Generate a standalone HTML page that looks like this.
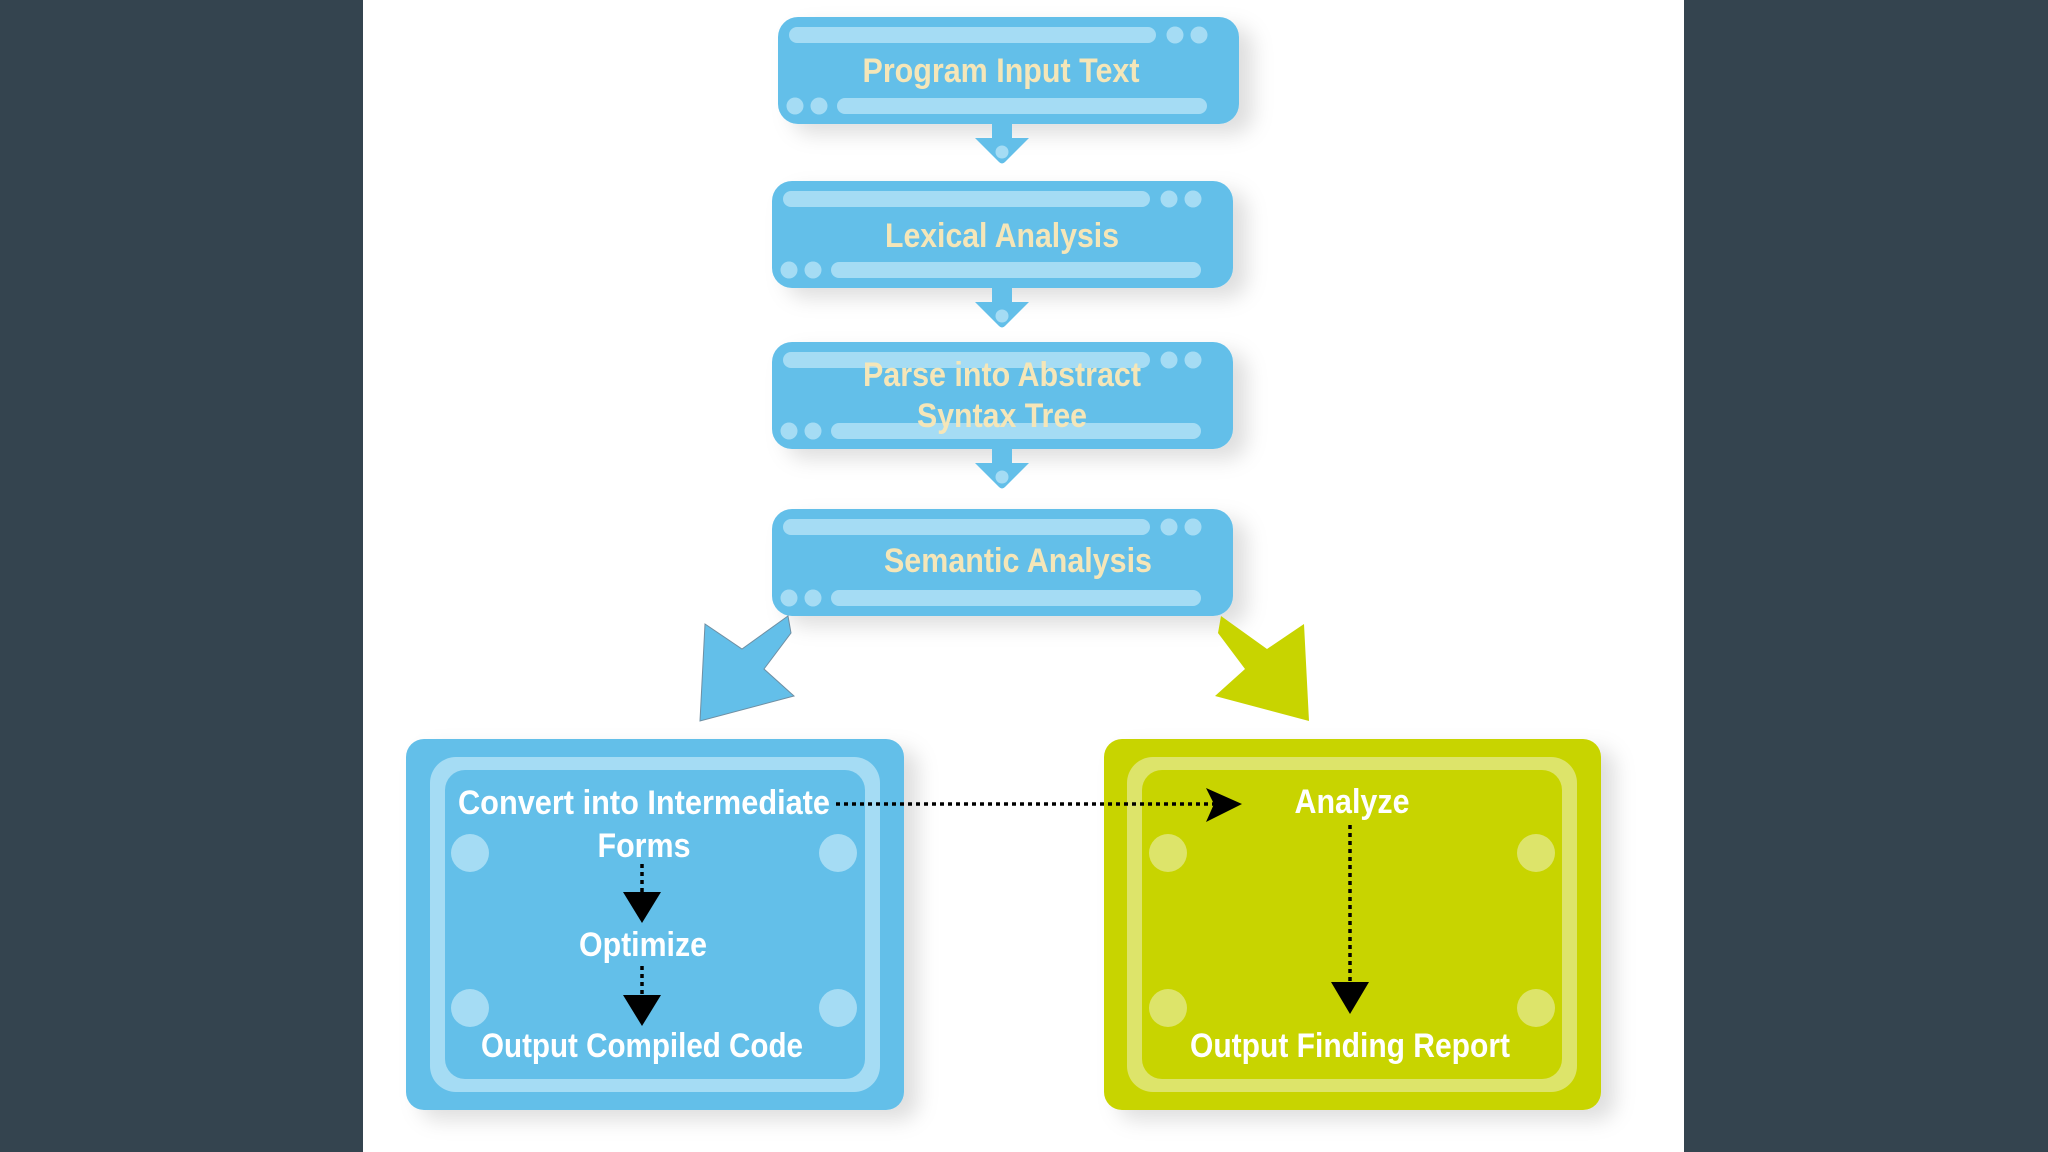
<!DOCTYPE html>
<html><head><meta charset="utf-8"><style>
html,body{margin:0;padding:0;background:#34444f;}
svg{display:block}
text{font-family:"Liberation Sans Narrow","Liberation Sans",sans-serif;font-weight:bold;text-anchor:middle}
</style></head><body>
<svg width="2048" height="1152" viewBox="0 0 2048 1152" xmlns="http://www.w3.org/2000/svg">
<defs>
<filter id="sh" x="-10%" y="-10%" width="130%" height="140%">
<feDropShadow dx="14" dy="10" stdDeviation="10" flood-color="#000" flood-opacity="0.13"/>
</filter>
<g id="bar">
<rect x="0" y="0" width="461" height="107" rx="20" fill="#63bfe9"/>
<rect x="11" y="10" width="367" height="16" rx="8" fill="#a5dcf4"/>
<circle cx="397" cy="18" r="8.5" fill="#a5dcf4"/>
<circle cx="421" cy="18" r="8.5" fill="#a5dcf4"/>
<circle cx="17" cy="89" r="8.5" fill="#a5dcf4"/>
<circle cx="41" cy="89" r="8.5" fill="#a5dcf4"/>
<rect x="59" y="81" width="370" height="16" rx="8" fill="#a5dcf4"/>
</g>
<g id="conn">
<path d="M-10 0 H10 V14 H27 L3 38 Q0 41 -3 38 L-27 14 H-10 Z" fill="#63bfe9"/>
<circle cx="0" cy="28" r="6.5" fill="#a5dcf4"/>
</g>
</defs>
<rect x="363" y="0" width="1321" height="1152" fill="#ffffff"/>

<g filter="url(#sh)"><use href="#bar" x="778" y="17"/></g>
<g filter="url(#sh)"><use href="#bar" x="772" y="181"/></g>
<g filter="url(#sh)"><use href="#bar" x="772" y="342"/></g>
<g filter="url(#sh)"><use href="#bar" x="772" y="509"/></g>
<use href="#conn" x="1002" y="124"/>
<use href="#conn" x="1002" y="288"/>
<use href="#conn" x="1002" y="449"/>

<g fill="#f5e6b8" font-size="34">
<text x="1001" y="82" textLength="277" lengthAdjust="spacingAndGlyphs">Program Input Text</text>
<text x="1002" y="247" textLength="234" lengthAdjust="spacingAndGlyphs">Lexical Analysis</text>
<text x="1002" y="386" textLength="278" lengthAdjust="spacingAndGlyphs">Parse into Abstract</text>
<text x="1002" y="427" textLength="170" lengthAdjust="spacingAndGlyphs">Syntax Tree</text>
<text x="1018" y="572" textLength="268" lengthAdjust="spacingAndGlyphs">Semantic Analysis</text>
</g>

<polygon points="700,721 705,624 742,649 788,616 791,633 764,669 794,696" fill="#63bfe9" stroke="#6f8fa3" stroke-width="1"/>
<polygon points="1309,721 1304,624 1267,649 1221,616 1218,633 1245,669 1215,696" fill="#c8d400"/>

<g filter="url(#sh)">
<rect x="406" y="739" width="498" height="371" rx="18" fill="#63bfe9"/>
</g>
<rect x="430" y="757" width="450" height="335" rx="26" fill="#a5dcf4"/>
<rect x="445" y="770" width="420" height="309" rx="20" fill="#63bfe9"/>
<g fill="#a5dcf4"><circle cx="470" cy="853" r="19"/><circle cx="838" cy="853" r="19"/><circle cx="470" cy="1008" r="19"/><circle cx="838" cy="1008" r="19"/></g>

<g filter="url(#sh)">
<rect x="1104" y="739" width="497" height="371" rx="18" fill="#c8d400"/>
</g>
<rect x="1127" y="757" width="450" height="335" rx="26" fill="#dde46a"/>
<rect x="1142" y="770" width="420" height="309" rx="20" fill="#c8d400"/>
<g fill="#dde46a"><circle cx="1168" cy="853" r="19"/><circle cx="1536" cy="853" r="19"/><circle cx="1168" cy="1008" r="19"/><circle cx="1536" cy="1008" r="19"/></g>

<g fill="#ffffff" font-size="34">
<text x="644" y="814" textLength="372" lengthAdjust="spacingAndGlyphs">Convert into Intermediate</text>
<text x="644" y="857" textLength="93" lengthAdjust="spacingAndGlyphs">Forms</text>
<text x="643" y="956" textLength="128" lengthAdjust="spacingAndGlyphs">Optimize</text>
<text x="642" y="1057" textLength="322" lengthAdjust="spacingAndGlyphs">Output Compiled Code</text>
<text x="1352" y="813" textLength="115" lengthAdjust="spacingAndGlyphs">Analyze</text>
<text x="1350" y="1057" textLength="320" lengthAdjust="spacingAndGlyphs">Output Finding Report</text>
</g>

<g stroke="#000" stroke-width="3.5" stroke-dasharray="4,4" fill="none">
<line x1="642" y1="864" x2="642" y2="892"/>
<line x1="642" y1="966" x2="642" y2="996"/>
<line x1="836" y1="804" x2="1214" y2="804"/>
<line x1="1350" y1="825" x2="1350" y2="984"/>
</g>
<g fill="#000">
<polygon points="623,892 661,892 642,923"/>
<polygon points="623,995 661,995 642,1026"/>
<polygon points="1206,788 1242,804 1206,822 1214,804"/>
<polygon points="1331,982 1369,982 1350,1014"/>
</g>
</svg>
</body></html>
